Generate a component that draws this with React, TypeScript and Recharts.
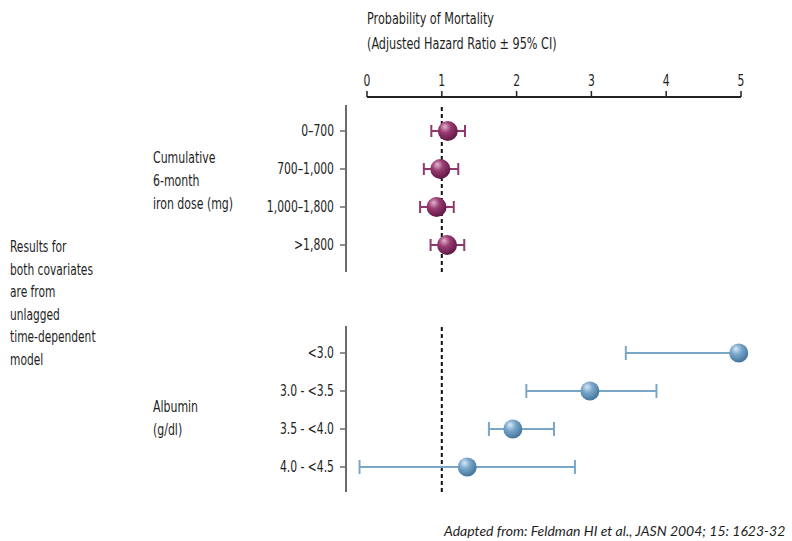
import { ScatterChart, Scatter, XAxis, YAxis, ErrorBar, ReferenceLine } from 'recharts'

const FONT = "'DejaVu Sans Condensed', 'DejaVu Sans', sans-serif"
const TEXT = '#1e1e1e'

const hrTicks = [0, 1, 2, 3, 4, 5]

const ironLabels = ['0–700', '700–1,000', '1,000–1,800', '>1,800']
const ironHr = [1.08, 0.98, 0.93, 1.07]
const ironLow = [0.86, 0.76, 0.71, 0.85]
const ironHigh = [1.31, 1.22, 1.16, 1.3]

const albuminLabels = ['<3.0', '3.0 - <3.5', '3.5 - <4.0', '4.0 - <4.5']
const albuminHr = [4.97, 2.98, 1.95, 1.34]
const albuminLow = [3.46, 2.13, 1.63, -0.1]
const albuminHigh = [4.97, 3.87, 2.5, 2.78]

function buildRows(labels: string[], hr: number[], low: number[], high: number[]) {
  return labels.map((label, i) => ({
    label,
    hr: hr[i],
    err: [hr[i] - low[i], high[i] - hr[i]],
  }))
}

const ironRows = buildRows(ironLabels, ironHr, ironLow, ironHigh)
const albuminRows = buildRows(albuminLabels, albuminHr, albuminLow, albuminHigh)
const axisRows = hrTicks.map((t) => ({ hr: t }))

// condensed text, the source uses a narrow Gill Sans
const NarrowTick = (props: any) => {
  const { x, y, payload, anchor, dy, size } = props
  return (
    <text
      x={x}
      y={y}
      dy={dy}
      textAnchor={anchor}
      fontSize={size}
      fontFamily={FONT}
      fill={TEXT}
      transform={`translate(${x} ${y}) scale(${(15 * 0.8) / size} 1) translate(${-x} ${-y})`}
    >
      {payload.value}
    </text>
  )
}

interface PanelProps {
  rows: { label: string; hr: number; err: number[] }[]
  top: number
  height: number
  marginTop: number
  marginBottom: number
  padTop: number
  padBottom: number
  color: string
  ball: string
  radius: number
  cap: number
}

// the balls go in a second chart on top, so they cover the CI lines
function Panel(p: PanelProps) {
  const margin = { top: p.marginTop, right: 41, bottom: p.marginBottom, left: 146 }
  const yPad = { top: p.padTop, bottom: p.padBottom }
  const xPad = { left: 21, right: 10 }
  return (
    <div style={{ position: 'absolute', left: 0, top: p.top, width: 792, height: p.height }}>
      <div style={{ position: 'absolute', left: 0, top: 0 }}>
        <ScatterChart width={792} height={p.height} margin={margin}>
          <XAxis
            type="number"
            dataKey="hr"
            domain={[0, 5]}
            allowDataOverflow
            hide
            padding={xPad}
          />
          <YAxis
            type="category"
            dataKey="label"
            reversed
            width={200}
            interval={0}
            padding={yPad}
            axisLine={{ stroke: '#6b6b6b', strokeWidth: 2 }}
            tickLine={{ stroke: '#6b6b6b', strokeWidth: 1.5 }}
            tickSize={6}
            tickMargin={6}
            tick={<NarrowTick anchor="end" dy={5} size={16} />}
          />
          <ReferenceLine x={1} stroke="#111" strokeWidth={2} strokeDasharray="4 3" />
          <Scatter data={p.rows} isAnimationActive={false} shape={() => <g />}>
            <ErrorBar dataKey="err" direction="x" width={p.cap} stroke={p.color} strokeWidth={2} />
          </Scatter>
        </ScatterChart>
      </div>
      <div style={{ position: 'absolute', left: 0, top: 0 }}>
        <ScatterChart width={792} height={p.height} margin={margin}>
          <XAxis type="number" dataKey="hr" domain={[0, 5]} hide padding={xPad} />
          <YAxis
            type="category"
            dataKey="label"
            reversed
            width={200}
            padding={yPad}
            axisLine={false}
            tickLine={false}
            tick={false}
          />
          <Scatter
            data={p.rows}
            isAnimationActive={false}
            shape={(s: any) => <circle cx={s.cx} cy={s.cy} r={p.radius} fill={`url(#${p.ball})`} />}
          />
        </ScatterChart>
      </div>
    </div>
  )
}

const label = (left: number, top: number, lh: number, size: number, sx: number, lines: string[]) => (
  <div
    style={{
      position: 'absolute',
      left,
      top,
      fontFamily: FONT,
      fontSize: size,
      lineHeight: `${lh}px`,
      color: TEXT,
      whiteSpace: 'nowrap',
      transform: `scaleX(${sx})`,
      transformOrigin: 'left top',
    }}
  >
    {lines.map((l) => (
      <div key={l}>{l}</div>
    ))}
  </div>
)

export default function App() {
  return (
    <div
      style={{
        position: 'absolute',
        left: 0,
        top: 0,
        width: 792,
        height: 541,
        overflow: 'hidden',
        background: '#fff',
      }}
    >
      <svg width={0} height={0} style={{ position: 'absolute' }}>
        <defs>
          <radialGradient id="ironBall" cx="40%" cy="35%" r="70%" fx="35%" fy="28%">
            <stop offset="0%" stopColor="#e3b4cf" />
            <stop offset="40%" stopColor="#9a3d72" />
            <stop offset="100%" stopColor="#5a1440" />
          </radialGradient>
          <radialGradient id="albBall" cx="40%" cy="35%" r="70%" fx="35%" fy="28%">
            <stop offset="0%" stopColor="#d7e8f4" />
            <stop offset="40%" stopColor="#7aa8cb" />
            <stop offset="100%" stopColor="#3c6f98" />
          </radialGradient>
        </defs>
      </svg>

      {label(367, 6, 25, 16, 0.78, ['Probability of Mortality', '(Adjusted Hazard Ratio ± 95% CI)'])}

      <div style={{ position: 'absolute', left: 0, top: 0 }}>
        <ScatterChart
          width={792}
          height={105}
          data={axisRows}
          margin={{ top: 67, right: 51, bottom: 0, left: 367 }}
        >
          <XAxis
            orientation="top"
            type="number"
            dataKey="hr"
            domain={[0, 5]}
            allowDataOverflow
            ticks={hrTicks}
            interval={0}
            height={30}
            tickSize={6}
            tickMargin={5}
            axisLine={{ stroke: '#222', strokeWidth: 2 }}
            tickLine={{ stroke: '#222', strokeWidth: 1.5 }}
            tick={<NarrowTick anchor="middle" dy={0} size={16} />}
          />
          <YAxis type="number" domain={[0, 1]} hide />
          <ReferenceLine x={1} stroke="#111" strokeWidth={2} strokeDasharray="4 3" />
        </ScatterChart>
      </div>

      <Panel
        rows={ironRows}
        top={97}
        height={180}
        marginTop={8}
        marginBottom={5}
        padTop={7}
        padBottom={8}
        color="#8e3a6e"
        ball="ironBall"
        radius={10}
        cap={6}
      />
      <Panel
        rows={albuminRows}
        top={320}
        height={180}
        marginTop={6}
        marginBottom={8}
        padTop={8}
        padBottom={6}
        color="#7ba7c7"
        ball="albBall"
        radius={9.5}
        cap={7}
      />

      {label(153, 146, 23, 16, 0.76, ['Cumulative', '6-month', 'iron dose (mg)'])}
      {label(153, 395, 23, 16, 0.76, ['Albumin', '(g/dl)'])}
      {label(10, 236, 22.6, 16, 0.74, [
        'Results for',
        'both covariates',
        'are from',
        'unlagged',
        'time-dependent',
        'model',
      ])}

      <div
        style={{
          position: 'absolute',
          left: 444,
          top: 522,
          fontFamily: 'Lato, sans-serif',
          fontStyle: 'italic',
          fontSize: 14,
          color: TEXT,
          whiteSpace: 'nowrap',
        }}
      >
        Adapted from: Feldman HI et al., JASN 2004; 15: 1623-32
      </div>
    </div>
  )
}
